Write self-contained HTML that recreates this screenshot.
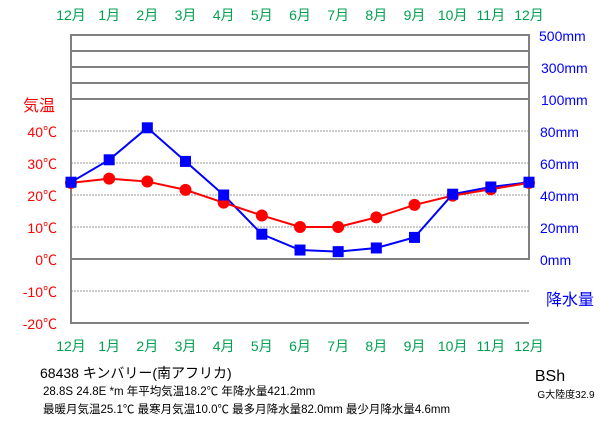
<!DOCTYPE html>
<html><head><meta charset="utf-8"><style>
body{margin:0;background:#fff;width:611px;height:425px;overflow:hidden}
svg text{font-family:"Liberation Sans","Noto Sans CJK JP",sans-serif}
</style></head><body>
<svg id="c" width="611" height="425" xmlns="http://www.w3.org/2000/svg"></svg>
<script>
const months=["12月","1月","2月","3月","4月","5月","6月","7月","8月","9月","10月","11月","12月"];
const temps=[23.8,25.1,24.2,21.6,17.6,13.6,10.0,10.0,13.0,16.9,19.8,21.8,23.8];
const precip=[48.0,62.0,82.0,61.0,40.0,15.5,5.6,4.6,6.9,13.5,40.5,45.0,48.0];
const tempTicks=[40,30,20,10,0,-10,-20];
const precipTicks=[80,60,40,20,0];
const upperTicks=["500mm","300mm","100mm"];
const NS="http://www.w3.org/2000/svg";
const svg=document.getElementById('c');
const L=71,R=529;
const xs=i=>L+(R-L)*i/(months.length-1);
const yT=t=>259-3.2*t;
const yP=p=>259-1.6*p;
function mk(tag,attrs,parent){const e=document.createElementNS(NS,tag);for(const k in attrs)e.setAttribute(k,attrs[k]);(parent||svg).appendChild(e);return e;}
function txt(s,x,y,fill,size,anchor){const e=mk('text',{x:x,y:y,fill:fill,'font-size':size,'text-anchor':anchor||'start'});e.textContent=s;return e;}
[35,51,67,83,99].forEach((y,i)=>{const l=mk('line',{x1:L,x2:R,y1:y,y2:y,stroke:'#808080','stroke-width':2});

});
tempTicks.forEach(t=>{const y=yT(t);const solid=(t===0||t===-20);
const l=mk('line',{x1:L,x2:R,y1:y,y2:y,stroke:solid?'#808080':'#999','stroke-width':solid?2:1,'stroke-dasharray':solid?'':'2,1'});


const tl=txt(t+'℃',57,y+6,'#f00',14,'end');

});
const ax1=mk('line',{x1:L,x2:L,y1:34,y2:324,stroke:'#808080','stroke-width':2});


const ax2=mk('line',{x1:R,x2:R,y1:34,y2:260,stroke:'#808080','stroke-width':2});


precipTicks.forEach(p=>{const e=txt(p+'mm',540,yP(p)+6,'#00f',14);

});
[41,73,105].forEach((y,i)=>{const e=txt(upperTicks[i],i==0?539:541,y,'#00f',14);

});
months.forEach((m,i)=>{[20,351].forEach(y=>{const e=txt(m,xs(i),y,'#00a050',14,'middle');

});});
const a=txt('気温',23,111,'#f00',16);
const b=txt('降水量',546,305,'#00f',16);
const pl=mk('polyline',{points:precip.map((p,i)=>xs(i)+','+yP(p)).join(' '),fill:'none',stroke:'#00f','stroke-width':2});


const tl=mk('polyline',{points:temps.map((t,i)=>xs(i)+','+yT(t)).join(' '),fill:'none',stroke:'#f00','stroke-width':2});


temps.forEach((t,i)=>{const c=mk('circle',{cx:xs(i),cy:yT(t),r:6,fill:'#f00'});

});
precip.forEach((p,i)=>{const r=mk('rect',{x:xs(i)-5.5,y:yP(p)-5.5,width:11,height:11,fill:'#00f'});

});
const f1=txt('68438  キンバリー(南アフリカ)',40,378,'#000',14);
const f2=txt('28.8S  24.8E  *m  年平均気温18.2℃  年降水量421.2mm',43,395,'#000',11.5);
const f3=txt('最暖月気温25.1℃ 最寒月気温10.0℃ 最多月降水量82.0mm 最少月降水量4.6mm',43,413,'#000',11.5);
const f4=txt('BSh',550,381,'#000',16,'middle');
const f5=txt('G大陸度32.9',566,398,'#000',10,'middle');
</script>
</body></html>
